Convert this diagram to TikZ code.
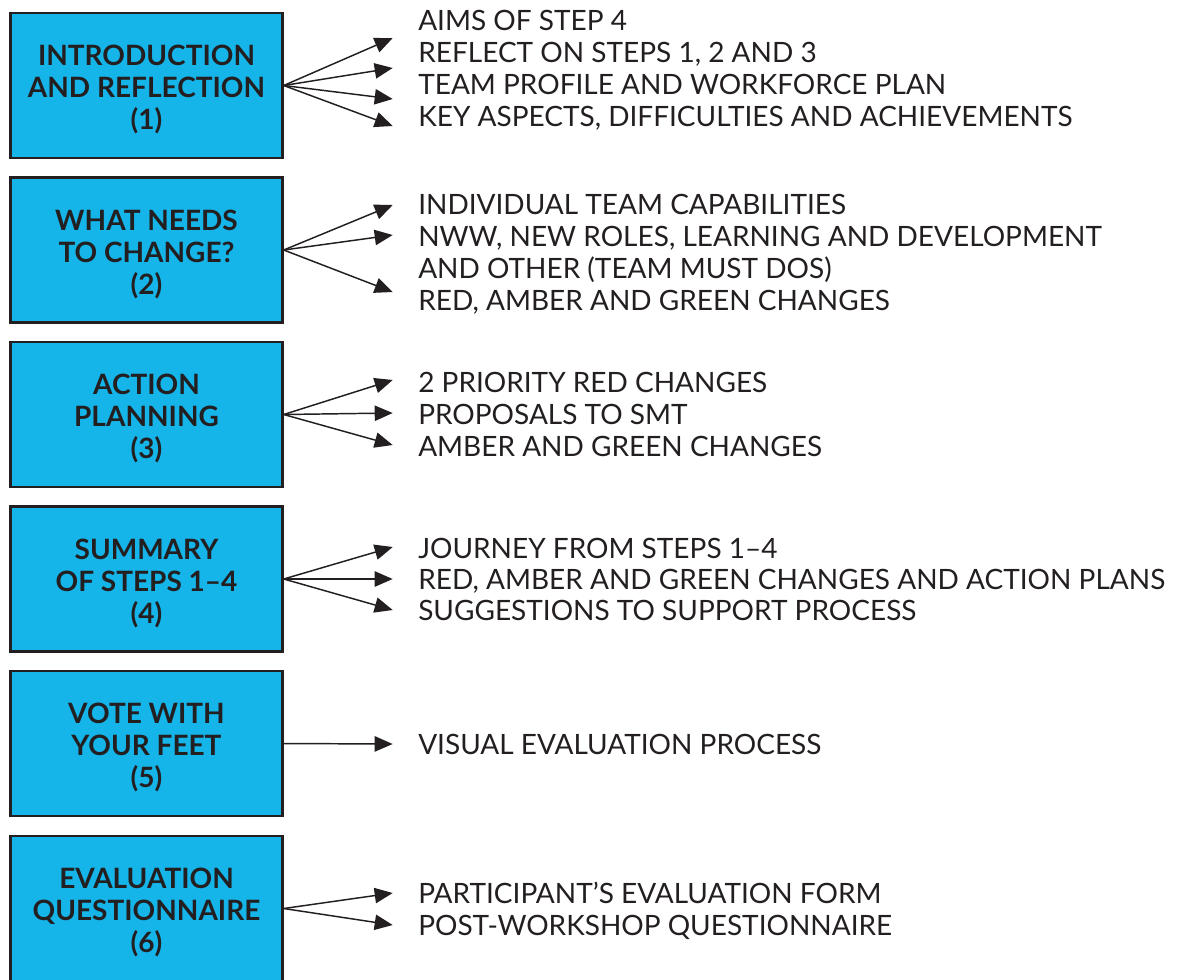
\documentclass[tikz,border=0pt]{standalone}
\usepackage{fontspec}
\setmainfont{Lato}
\usetikzlibrary{arrows.meta}
\definecolor{boxblue}{HTML}{15B4E9}
\definecolor{ink}{HTML}{231F20}
\newcommand\steplabel[1]{\raisebox{-4.5pt}[\height][\depth]{\begin{tabular}{@{}c@{}}#1\end{tabular}}}
\tikzset{
  stepbox/.style={draw=ink, line width=1.8pt, fill=boxblue, minimum width=204pt, minimum height=108.5pt,
    inner sep=0pt, text=ink, font=\bfseries\fontsize{21}{24}\selectfont},
  item/.style={anchor=base west, inner sep=0pt, text=ink, font=\fontsize{21}{24}\selectfont},
  conn/.style={draw=ink, line width=1.1pt, -{Triangle[length=13.5pt, width=11.5pt]}}
}
\begin{document}
\begin{tikzpicture}[x=0.75pt,y=-0.75pt]
\useasboundingbox (0,0) rectangle (1180,979);
\clip (0,0) rectangle (1180,979);
\fill[white] (0,0) rectangle (1180,979);
% boxes
\node[stepbox] (b1) at (146.5,85.5) {\steplabel{INTRODUCTION\\AND REFLECTION\\(1)}};
\node[stepbox] (b2) at (146.5,250) {\steplabel{WHAT NEEDS\\TO CHANGE?\\(2)}};
\node[stepbox] (b3) at (146.5,414.5) {\steplabel{ACTION\\PLANNING\\(3)}};
\node[stepbox] (b4) at (146.5,579) {\steplabel{SUMMARY\\OF STEPS 1--4\\(4)}};
\node[stepbox] (b5) at (146.5,743.5) {\steplabel{VOTE WITH\\YOUR FEET\\(5)}};
\node[stepbox] (b6) at (146.5,908.5) {\steplabel{EVALUATION\\QUESTIONNAIRE\\(6)}};
% items
\node[item] (t11) at (418,30) {AIMS OF STEP 4};
\node[item] (t12) at (418,62) {REFLECT ON STEPS 1, 2 AND 3};
\node[item] (t13) at (418,94) {TEAM PROFILE AND WORKFORCE PLAN};
\node[item] (t14) at (418,126) {KEY ASPECTS, DIFFICULTIES AND ACHIEVEMENTS};
\node[item] (t21) at (418,214) {INDIVIDUAL TEAM CAPABILITIES};
\node[item] (t22) at (418,246) {NWW, NEW ROLES, LEARNING AND DEVELOPMENT};
\node[item] (t23) at (418,278) {AND OTHER (TEAM MUST DOS)};
\node[item] (t24) at (418,310) {RED, AMBER AND GREEN CHANGES};
\node[item] (t31) at (418,392) {2 PRIORITY RED CHANGES};
\node[item] (t32) at (418,424) {PROPOSALS TO SMT};
\node[item] (t33) at (418,456) {AMBER AND GREEN CHANGES};
\node[item] (t41) at (418,558) {JOURNEY FROM STEPS 1--4};
\node[item] (t42) at (418,589) {RED, AMBER AND GREEN CHANGES AND ACTION PLANS};
\node[item] (t43) at (418,620) {SUGGESTIONS TO SUPPORT PROCESS};
\node[item] (t51) at (418,754) {VISUAL EVALUATION PROCESS};
\node[item] (t61) at (418,903) {PARTICIPANT'S EVALUATION FORM};
\node[item] (t62) at (418,935) {POST-WORKSHOP QUESTIONNAIRE};
% arrow tips
\coordinate (e11) at (392.7,38);
\coordinate (e12) at (392.7,68);
\coordinate (e13) at (392.7,99);
\coordinate (e14) at (392.7,126);
\coordinate (e21) at (392.7,205);
\coordinate (e22) at (392.7,235);
\coordinate (e24) at (392.7,292);
\coordinate (e31) at (392.7,380);
\coordinate (e32) at (392.7,413);
\coordinate (e33) at (392.7,445);
\coordinate (e41) at (392.7,547);
\coordinate (e42) at (392.7,579);
\coordinate (e43) at (392.7,610);
\coordinate (e51) at (392.7,744);
\coordinate (e61) at (392.7,893);
\coordinate (e62) at (392.7,925);
% connectors
\foreach \e in {e11,e12,e13,e14} \draw[conn] (b1.east) -- (\e);
\foreach \e in {e21,e22,e24} \draw[conn] (b2.east) -- (\e);
\foreach \e in {e31,e32,e33} \draw[conn] (b3.east) -- (\e);
\foreach \e in {e41,e42,e43} \draw[conn] (b4.east) -- (\e);
\draw[conn] (b5.east) -- (e51);
\foreach \e in {e61,e62} \draw[conn] (b6.east) -- (\e);
\end{tikzpicture}
\end{document}
